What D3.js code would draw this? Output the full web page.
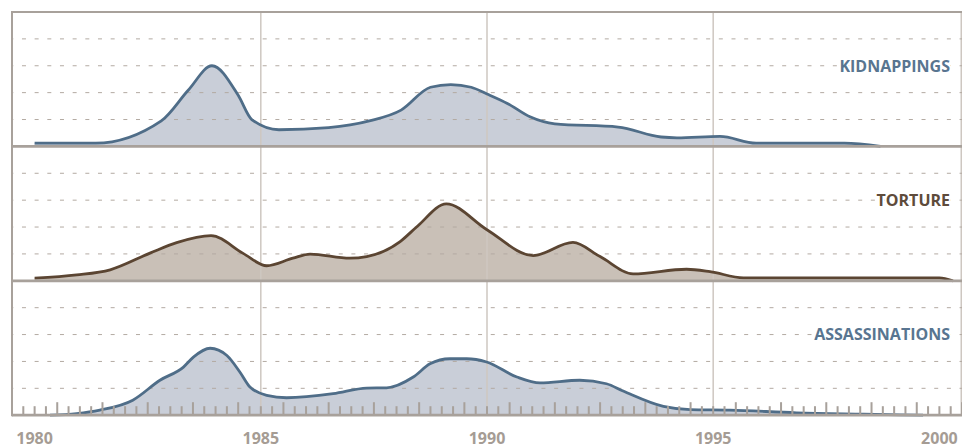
<!DOCTYPE html>
<html>
<head>
<meta charset="utf-8">
<script src="https://cdn.jsdelivr.net/npm/d3@7"></script>
<style>
	body { margin: 0; background: #fff; }
</style>
</head>
<body>
<div class="chart"></div>
<script>
/*  ======== Data ============= */
var yearLabels = ['1980', '1985', '1990', '1995', '2000'];
var seriesNames = ['KIDNAPPINGS', 'TORTURE', 'ASSASSINATIONS'];

var kidnapYears  = [1980.0, 1981.35, 1982.8, 1983.4, 1983.92, 1984.5, 1984.8, 1985.4, 1986.5, 1987.4, 1988.1, 1988.75,
					1989.2, 1989.65, 1990.0, 1990.45, 1990.95, 1991.5, 1992.9, 1993.85, 1994.2, 1995.15, 1995.95, 1997.9, 1998.7];
var kidnapValues = [1.2, 1.2, 9.5, 21, 30, 19, 10, 6.2, 7, 9.5, 13.5, 22,
					23, 22, 19.5, 16, 11, 8.4, 7.2, 3.5, 3.2, 3.7, 1.2, 1.2, 0];

var tortureYears  = [1980.0, 1980.93, 1981.67, 1982.55, 1983.14, 1983.9, 1984.6, 1985.13, 1985.71, 1986.09, 1986.97, 1987.34,
					1988.08, 1988.45, 1989.1, 1989.99, 1991.02, 1991.9, 1992.5, 1993.23, 1994.41, 1994.93, 1995.67, 2000.0, 2000.3];
var tortureValues = [1.0, 2.2, 4.1, 10.3, 14.2, 16.8, 10.3, 5.6, 8.4, 9.9, 8.4, 9.0,
					14.6, 20.1, 28.6, 19.1, 9.4, 14.3, 9.0, 2.6, 4.3, 3.4, 1.1, 1.1, 0];

var assassYears  = [1980.34, 1980.93, 1981.44, 1982.17, 1982.77, 1983.29, 1983.51, 1983.88, 1984.25, 1984.54, 1984.76, 1985.13,
					1985.57, 1986.6, 1987.34, 1987.78, 1988.37, 1988.74, 1989.18, 1989.55, 1989.99, 1990.66, 1991.17, 1992.05,
					1992.64, 1993.01, 1993.9, 1994.49, 1995.37, 1996.84, 1998.32, 1999.64];
var assassValues = [0, 0.6, 1.9, 5.6, 13.0, 17.9, 21.6, 24.9, 22.2, 16.0, 10.5, 7.4,
					6.5, 8.0, 10.1, 10.2, 14.2, 19.1, 21.0, 21.0, 19.8, 14.2, 12.0, 13.0,
					11.7, 9.0, 3.3, 2.1, 1.9, 0.9, 0.4, 0];

var gridValues = [10, 20, 30, 40];
/*  ======== Data ============= */

var width = 962, height = 448;
var marginLeft = 12, marginRight = 962, marginTop = 12, panelHeight = 134.4;
var frameColor = '#a8a19b', vGridColor = '#cec7c1', dashColor = '#b3aaa2';
var lineColors = ['#4f6d88', '#5b4532', '#4f6d88'];
var fillColors = ['#c9ced8', '#c9c0b7', '#c9ced8'];
var labelColors = ['#587590', '#5e4b3b', '#587590'];
var fontFamily = '"Open Sans", "DejaVu Sans", sans-serif';

var svg = d3.select('.chart')
			.append('svg')
			.attr('width', width)
			.attr('height', height);

var x = d3.scaleLinear().domain([1979.5, 2000.5]).range([marginLeft, marginRight]);
var bottomY = marginTop + panelHeight*3;

var series = [
	{name: seriesNames[0], years: kidnapYears, values: kidnapValues},
	{name: seriesNames[1], years: tortureYears, values: tortureValues},
	{name: seriesNames[2], years: assassYears, values: assassValues}
];

// fills first so grid shows on top of them
var panels = [];
for(var i = 0; i < series.length; i++){
	var base = marginTop + panelHeight*(i+1);
	var y = d3.scaleLinear().domain([0, 50]).range([base, base - panelHeight]);
	panels.push(y);
	var pts = series[i].years.map(function(d, j){ return [d, series[i].values[j]]; });
	var area = d3.area()
				.x(function(d){ return x(d[0]); })
				.y0(y(0))
				.y1(function(d){ return y(d[1]); })
				.curve(d3.curveMonotoneX);
	svg.append('path')
		.attr('d', area(pts))
		.attr('fill', fillColors[i]);
}

// vertical year lines
for(i = 0; i < yearLabels.length; i++){
	var yr = +yearLabels[i];
	if(yr == 1980 || yr == 2000) continue;
	svg.append('line')
		.attr('x1', x(yr)).attr('x2', x(yr))
		.attr('y1', marginTop).attr('y2', bottomY)
		.attr('stroke', vGridColor)
		.attr('stroke-width', 1.5);
}
svg.append('line')
	.attr('x1', marginRight - 0.75).attr('x2', marginRight - 0.75)
	.attr('y1', marginTop).attr('y2', bottomY)
	.attr('stroke', vGridColor)
	.attr('stroke-width', 1.5);

// dashed gridlines
for(i = 0; i < panels.length; i++){
	for(var j = 0; j < gridValues.length; j++){
		svg.append('line')
			.attr('x1', marginLeft).attr('x2', marginRight)
			.attr('y1', panels[i](gridValues[j])).attr('y2', panels[i](gridValues[j]))
			.attr('stroke', dashColor)
			.attr('stroke-width', 1)
			.attr('stroke-dasharray', '4,8.67')
			.attr('stroke-dashoffset', 2.7);
	}
}

// curves
for(i = 0; i < series.length; i++){
	var yS = panels[i];
	var pts2 = series[i].years.map(function(d, j){ return [d, series[i].values[j]]; });
	var line = d3.line()
				.x(function(d){ return x(d[0]); })
				.y(function(d){ return yS(d[1]); })
				.curve(d3.curveMonotoneX);
	svg.append('path')
		.attr('d', line(pts2))
		.attr('fill', 'none')
		.attr('stroke', lineColors[i])
		.attr('stroke-width', 2.8)
		.attr('stroke-linejoin', 'round');
}

// series labels
for(i = 0; i < series.length; i++){
	svg.append('text')
		.attr('x', 950)
		.attr('y', panels[i](30))
		.attr('dy', '0.36em')
		.attr('text-anchor', 'end')
		.attr('font-family', fontFamily)
		.attr('font-size', 16)
		.attr('font-weight', 700)
		.attr('fill', labelColors[i])
		.attr('stroke', '#fff')
		.attr('stroke-width', 4)
		.attr('paint-order', 'stroke')
		.text(series[i].name);
}

// quarter-year ticks along the bottom
var ticks = d3.range(0, 21*4 + 1).map(function(k){ return 1979.5 + k/4; });
for(i = 0; i < ticks.length; i++){
	var major = (i % 4 == 0);
	svg.append('rect')
		.attr('x', x(ticks[i]) - 1)
		.attr('y', bottomY - (major ? 13 : 9))
		.attr('width', 2)
		.attr('height', major ? 13 : 9)
		.attr('fill', frameColor);
}

// frame
svg.append('line')
	.attr('x1', marginLeft).attr('x2', marginRight)
	.attr('y1', marginTop).attr('y2', marginTop)
	.attr('stroke', frameColor).attr('stroke-width', 2);
for(i = 1; i <= 3; i++){
	svg.append('line')
		.attr('x1', marginLeft).attr('x2', marginRight)
		.attr('y1', marginTop + panelHeight*i).attr('y2', marginTop + panelHeight*i)
		.attr('stroke', frameColor).attr('stroke-width', 2.7);
}
svg.append('line')
	.attr('x1', marginLeft).attr('x2', marginLeft)
	.attr('y1', marginTop - 1).attr('y2', bottomY + 1)
	.attr('stroke', frameColor).attr('stroke-width', 2);

// year labels
for(i = 0; i < yearLabels.length; i++){
	svg.append('text')
		.attr('x', x(+yearLabels[i]))
		.attr('y', 443.5)
		.attr('text-anchor', 'middle')
		.attr('font-family', fontFamily)
		.attr('font-size', 16)
		.attr('font-weight', 700)
		.attr('fill', '#a59c94')
		.text(yearLabels[i]);
}
</script>
</body>
</html>
